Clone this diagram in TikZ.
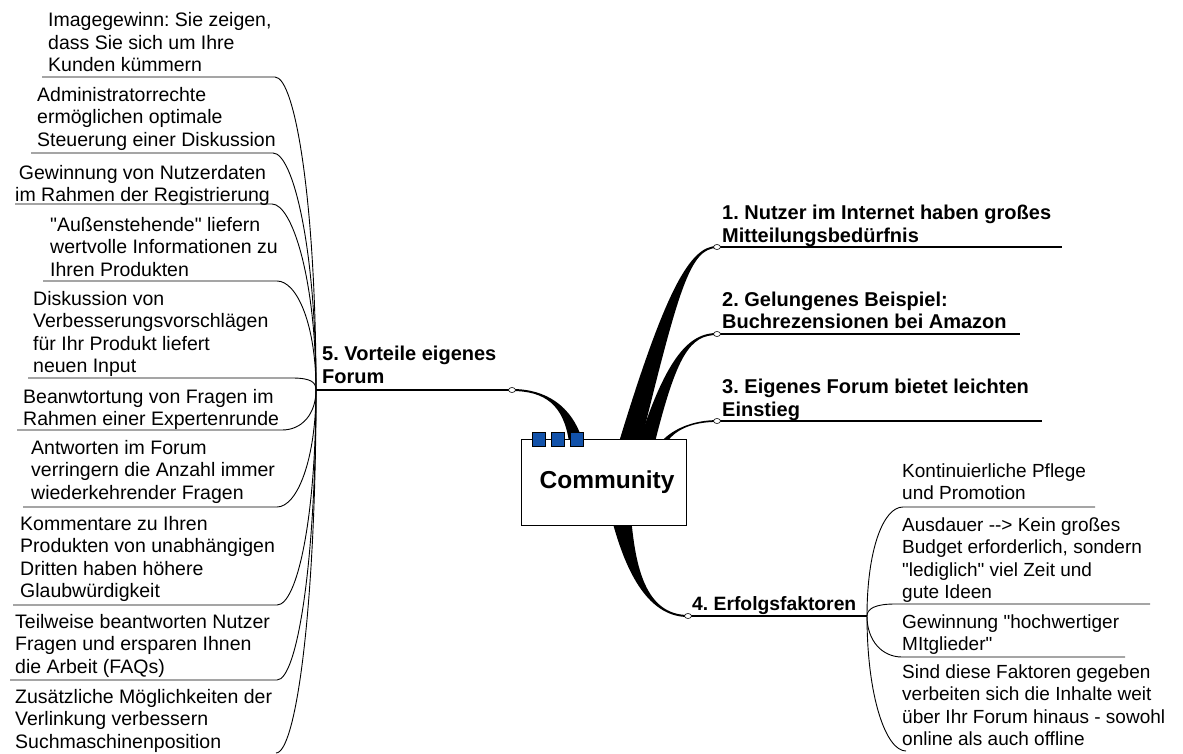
\documentclass[tikz,border=0pt]{standalone}
\usepackage{fontspec}
\setmainfont{Liberation Sans}
\usetikzlibrary{calc,shapes.geometric}

\definecolor{tabblue}{RGB}{18,82,170}

\newcommand\leftleaffont{\fontsize{19.5}{22.5}\selectfont}
\newcommand\rightleaffont{\fontsize{19}{22.5}\selectfont}
\newcommand\topicfont{\fontsize{20}{22.5}\selectfont\bfseries}
% straight double quote
\newcommand\sq{\textquotedbl}

% Tapered main branch: #1 tip, #2 control near tip, #3 control near base,
% #4 base, #5 half width at tip, #6 half width at base, #7 side (1 or -1)
\newcommand\taperbranch[7]{%
  \fill ($#1+(0,-#5)$) .. controls ($#2+(0,-#5)$) and ($#3+({#7*(-0.6*#6)},0)$) ..
        ($#4+({#7*(-#6)},0)$) -- ($#4+({#7*#6},0)$)
        .. controls ($#3+({#7*0.6*#6},0)$) and ($#2+(0,#5)$) .. ($#1+(0,#5)$) -- cycle;}

\begin{document}
\frenchspacing
\begin{tikzpicture}[x=1pt,y=-1pt,
  leaf/.style={anchor=base west,align=left,inner sep=0pt,font=\leftleaffont},
  rleaf/.style={leaf,font=\rightleaffont},
  topic/.style={anchor=base west,align=left,inner sep=0pt,font=\topicfont},
  knob/.style={ellipse,draw,fill=white,line width=0.6pt,minimum width=7pt,minimum height=5pt,inner sep=0pt},
  rule/.style={line width=1.1pt},
  twig/.style={line width=0.9pt},
  tab/.style={rectangle,draw=black,fill=tabblue,line width=0.8pt,minimum width=13pt,minimum height=14pt,inner sep=0pt}
]
\useasboundingbox[fill=white] (0,0) rectangle (1183,754);

% ---- anchor points of the main branches
\coordinate (p1) at (717,247);
\coordinate (p2) at (717,334);
\coordinate (p3) at (717,421);
\coordinate (p4) at (688,616);
\coordinate (p5) at (512,390);
\coordinate (hL) at (316,390);
\coordinate (hR) at (867,616);
\coordinate (r1) at (630,442);
\coordinate (r2) at (647,442);
\coordinate (r3) at (664,442);
\coordinate (r4) at (622,522);
\coordinate (r5) at (576,442);

% ---- thick tapered branches out of the central topic
\taperbranch{(p1)}{(690,247)}{(672,290)}{(r1)}{1}{11}{1}
\taperbranch{(p2)}{(690,334)}{(672,355)}{(r2)}{1}{8}{1}
\taperbranch{(p3)}{(695,421)}{(675,428)}{(r3)}{0.9}{3}{1}
\taperbranch{(p4)}{(645,616)}{(630,565)}{(r4)}{1}{9.5}{-1}
\taperbranch{(p5)}{(545,390)}{(568,405)}{(r5)}{1}{7}{-1}

% ---- main topics (nodes sit on the baseline of their last line)
\node[topic] (t1) at (722,242.5) {1. Nutzer im Internet haben großes\\Mitteilungsbedürfnis};
\coordinate (u1) at (1062,247);
\draw[rule] (p1) -- (u1);

\node[topic] (t2) at (722,328.5) {2. Gelungenes Beispiel:\\Buchrezensionen bei Amazon};
\coordinate (u2) at (1020,334);
\draw[rule] (p2) -- (u2);

\node[topic] (t3) at (722,416) {3. Eigenes Forum bietet leichten\\Einstieg};
\coordinate (u3) at (1042,421);
\draw[rule] (p3) -- (u3);

\node[topic,font=\fontsize{19.3}{22.5}\selectfont\bfseries] (t4) at (692,610) {4. Erfolgsfaktoren};
\draw[rule] (p4) -- (hR);

\node[topic] (t5) at (322,383) {5. Vorteile eigenes\\Forum};
\draw[rule] (p5) -- (hL);

% ---- subtopics of "5. Vorteile eigenes Forum"
\node[leaf] (L1) at (48,72) {Imagegewinn: Sie zeigen,\\dass Sie sich um Ihre\\Kunden kümmern};
\coordinate (a1) at (42,77);  \coordinate (e1) at (275,77);
\node[leaf] (L2) at (37,146.5) {Administratorrechte\\ermöglichen optimale\\Steuerung einer Diskussion};
\coordinate (a2) at (31,153); \coordinate (e2) at (273,153);
\node[leaf,align=center] (L3) at (15,202) {Gewinnung von Nutzerdaten\\im Rahmen der Registrierung};
\coordinate (a3) at (15,204); \coordinate (e3) at (272,204);
\node[leaf] (L4) at (50,276) {\sq Außenstehende\sq{} liefern\\wertvolle Informationen zu\\Ihren Produkten};
\coordinate (a4) at (43,281); \coordinate (e4) at (277,281);
\node[leaf] (L5) at (33,372.5) {Diskussion von\\Verbesserungsvorschlägen\\für Ihr Produkt liefert\\neuen Input};
\coordinate (a5) at (28,378); \coordinate (e5) at (292,378);
\node[leaf] (L6) at (23,425.5) {Beanwtortung von Fragen im\\Rahmen einer Expertenrunde};
\coordinate (a6) at (17,430); \coordinate (e6) at (282,430);
\node[leaf] (L7) at (31,499) {Antworten im Forum\\verringern die Anzahl immer\\wiederkehrender Fragen};
\coordinate (a7) at (23,507); \coordinate (e7) at (277,507);
\node[leaf] (L8) at (20,597.5) {Kommentare zu Ihren\\Produkten von unabhängigen\\Dritten haben höhere\\Glaubwürdigkeit};
\coordinate (a8) at (13,605); \coordinate (e8) at (277,605);
\node[leaf] (L9) at (15,673) {Teilweise beantworten Nutzer\\Fragen und ersparen Ihnen\\die Arbeit (FAQs)};
\coordinate (a9) at (10,680); \coordinate (e9) at (277,680);
\node[leaf] (L10) at (15,748) {Zusätzliche Möglichkeiten der\\Verlinkung verbessern\\Suchmaschinenposition};
\coordinate (e10) at (276,753);

\foreach \i in {1,...,9}{
  \draw[twig] (a\i) -- (e\i) .. controls ($(e\i)+(20,0)$) and ($(hL)!0.6!(hL|-e\i)$) .. (hL);
}
\draw[twig] (e10) .. controls ($(e10)+(20,0)$) and ($(hL)!0.6!(hL|-e10)$) .. (hL);

% ---- subtopics of "4. Erfolgsfaktoren"
\node[rleaf] (R1) at (902,499.5) {Kontinuierliche Pflege\\und Promotion};
\coordinate (n1) at (903,507); \coordinate (f1) at (1095,507);
\node[rleaf] (R2) at (902,598.5) {Ausdauer -{}-{}> Kein großes\\Budget erforderlich, sondern\\\sq lediglich\sq{} viel Zeit und\\gute Ideen};
\coordinate (n2) at (895,604); \coordinate (f2) at (1150,604);
\node[rleaf] (R3) at (902,650.5) {Gewinnung \sq hochwertiger\\MItglieder\sq};
\coordinate (n3) at (902,657); \coordinate (f3) at (1125,657);
\node[rleaf] (R4) at (902,745.5) {Sind diese Faktoren gegeben\\verbeiten sich die Inhalte weit\\über Ihr Forum hinaus - sowohl\\online als auch offline};
\coordinate (n4) at (906,751);

\foreach \i in {1,2,3}{
  \draw[twig] (f\i) -- (n\i) .. controls ($(n\i)+(-20,0)$) and ($(hR)!0.6!(hR|-n\i)$) .. (hR);
}
\draw[twig] (n4) .. controls ($(n4)+(-20,0)$) and ($(hR)!0.6!(hR|-n4)$) .. (hR);

% ---- branch end knobs
\foreach \i in {1,...,5}{ \node[knob] (c\i) at (p\i) {}; }

% ---- central topic
\node[draw,fill=white,line width=1pt,minimum width=165pt,minimum height=86pt,inner sep=0pt,
      font=\fontsize{24.5}{28}\selectfont\bfseries] (core) at (603.5,482) {\hspace*{7pt}Community};
\node[tab] (s1) at (539,439) {};
\node[tab] (s2) at (558,439) {};
\node[tab] (s3) at (577,439) {};
\end{tikzpicture}
\end{document}
